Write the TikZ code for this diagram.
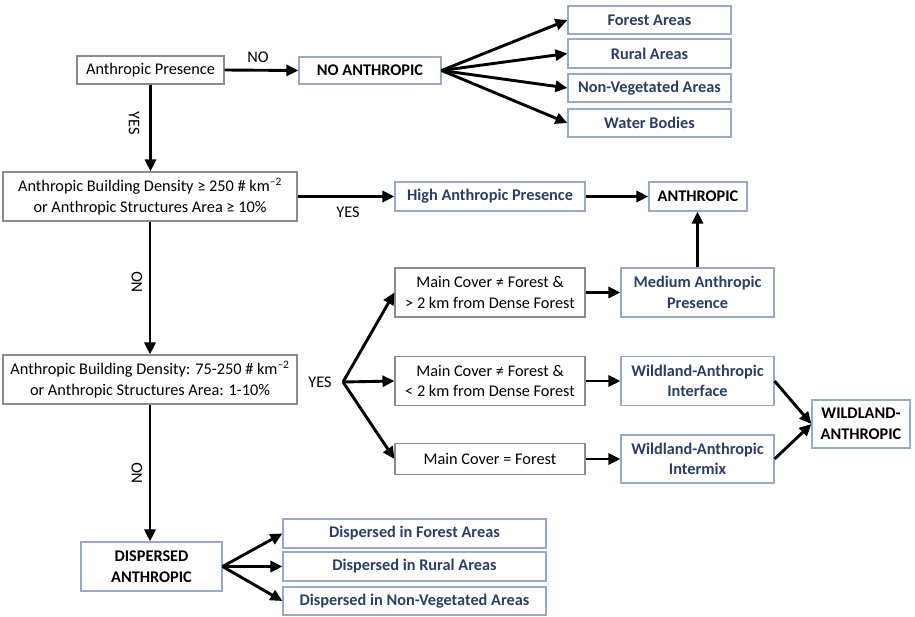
\documentclass[tikz,border=0pt]{standalone}
\usepackage{fontspec}
\setmainfont{Carlito}
\usetikzlibrary{arrows.meta}
\definecolor{bluetxt}{HTML}{2B3F66}
\definecolor{blueline}{HTML}{9AAAC6}
\definecolor{grayline}{HTML}{8C8C8C}
\tikzset{
  box/.style={draw=grayline, line width=1.1pt, align=center, inner sep=0pt,
    font=\fontsize{16.3}{20.5}\selectfont},
  res/.style={box, draw=blueline, text=bluetxt, font=\fontsize{16.3}{20.5}\selectfont\bfseries},
  fin/.style={box, draw=blueline, font=\fontsize{16.3}{20.5}\selectfont\bfseries},
  arr/.style={line width=2.9pt, -{Triangle[length=12pt,width=11pt]}},
  lbl/.style={font=\fontsize{16.3}{19}\selectfont, inner sep=0pt},
}
\begin{document}
\begin{tikzpicture}[x=1pt,y=-1pt]
\useasboundingbox (0,0) rectangle (915,616);
% decision boxes
\node[box, minimum width=147pt, minimum height=28pt] (AP) at (150.5,70) {Anthropic Presence};
\node[box, minimum width=294pt, minimum height=49pt] (B1) at (150,196.5)
  {Anthropic Building Density ≥ 250 \# km\textsuperscript{–2}\\or Anthropic Structures Area ≥ 10\%};
\node[box, minimum width=294pt, minimum height=49pt] (B2) at (150,379.5)
  {Anthropic Building Density: 75-250 \# km\textsuperscript{–2}\\or Anthropic Structures Area: 1-10\%};
\node[box, minimum width=190pt, minimum height=49pt] (MC1) at (490,292.5)
  {Main Cover ≠ Forest \&\\> 2 km from Dense Forest};
\node[box, minimum width=190pt, minimum height=49pt] (MC2) at (490,381)
  {Main Cover ≠ Forest \&\\< 2 km from Dense Forest};
\node[box, minimum width=190pt, minimum height=31pt] (MC3) at (490,459)
  {Main Cover = Forest};
% final classes
\node[fin, minimum width=142pt, minimum height=27pt] (NA) at (370,70.5) {NO ANTHROPIC};
\node[fin, minimum width=98pt, minimum height=29pt] (ANT) at (698,196.5) {ANTHROPIC};
\node[fin, minimum width=98pt, minimum height=48pt] (WILD) at (861,424) {WILDLAND-\\ANTHROPIC};
\node[fin, minimum width=141pt, minimum height=49pt] (DA) at (151.5,566.5) {DISPERSED\\ANTHROPIC};
% result boxes
\node[res, minimum width=163pt, minimum height=28pt] (FA) at (649.5,20) {Forest Areas};
\node[res, minimum width=163pt, minimum height=29pt] (RA) at (649.5,53.5) {Rural Areas};
\node[res, minimum width=163pt, minimum height=28pt] (NV) at (649.5,88) {Non-Vegetated Areas};
\node[res, minimum width=163pt, minimum height=28pt] (WB) at (649.5,123) {Water Bodies};
\node[res, minimum width=190pt, minimum height=29pt] (HAP) at (490,196.5) {High Anthropic Presence};
\node[res, minimum width=153pt, minimum height=49pt] (MAP) at (697.5,292.5) {Medium Anthropic\\Presence};
\node[res, minimum width=153pt, minimum height=49pt] (WAI) at (697.5,381) {Wildland-Anthropic\\Interface};
\node[res, minimum width=153pt, minimum height=48pt] (WAX) at (697.5,459) {Wildland-Anthropic\\Intermix};
\node[res, minimum width=263pt, minimum height=29pt] (D1) at (414.5,533.5) {Dispersed in Forest Areas};
\node[res, minimum width=263pt, minimum height=29pt] (D2) at (414.5,566.5) {Dispersed in Rural Areas};
\node[res, minimum width=263pt, minimum height=28pt] (D3) at (414.5,601) {Dispersed in Non-Vegetated Areas};
% labels
\node[lbl] (lno1) at (258,57) {NO};
\node[lbl, rotate=-90] (lyes1) at (134,123) {YES};
\node[lbl] (lyes2) at (348,212) {YES};
\node[lbl, rotate=90] (lno2) at (137,282) {NO};
\node[lbl] (lyes3) at (320,382) {YES};
\node[lbl, rotate=90] (lno3) at (137,473) {NO};
\coordinate (fork) at (343,382);
% connectors
\draw[arr] (AP.east) -- (NA.west);
\draw[arr] (AP.south) -- (AP.south |- B1.north);
\draw[arr] (NA.east) -- (FA.west);
\draw[arr] (NA.east) -- (RA.west);
\draw[arr] (NA.east) -- (NV.west);
\draw[arr] (NA.east) -- (WB.west);
\draw[arr] (B1.east) -- (HAP.west);
\draw[arr] (HAP.east) -- (ANT.west);
\draw[arr] (B1.south) -- (B2.north);
\draw[arr] (B2.south) -- (B2.south |- DA.north);
\draw[arr] (fork) -- (MC1.west);
\draw[arr] (fork) -- (MC2.west);
\draw[arr] (fork) -- (MC3.west);
\draw[arr] (MC1.east) -- (MAP.west);
\draw[arr] (MC2.east) -- (WAI.west);
\draw[arr] (MC3.east) -- (WAX.west);
\draw[arr] (MAP.north) -- (MAP.north |- ANT.south);
\draw[arr] (WAI.east) -- (WILD.west);
\draw[arr] (WAX.east) -- (WILD.west);
\draw[arr] (DA.east) -- (D1.west);
\draw[arr] (DA.east) -- (D2.west);
\draw[arr] (DA.east) -- (D3.west);
\end{tikzpicture}
\end{document}
